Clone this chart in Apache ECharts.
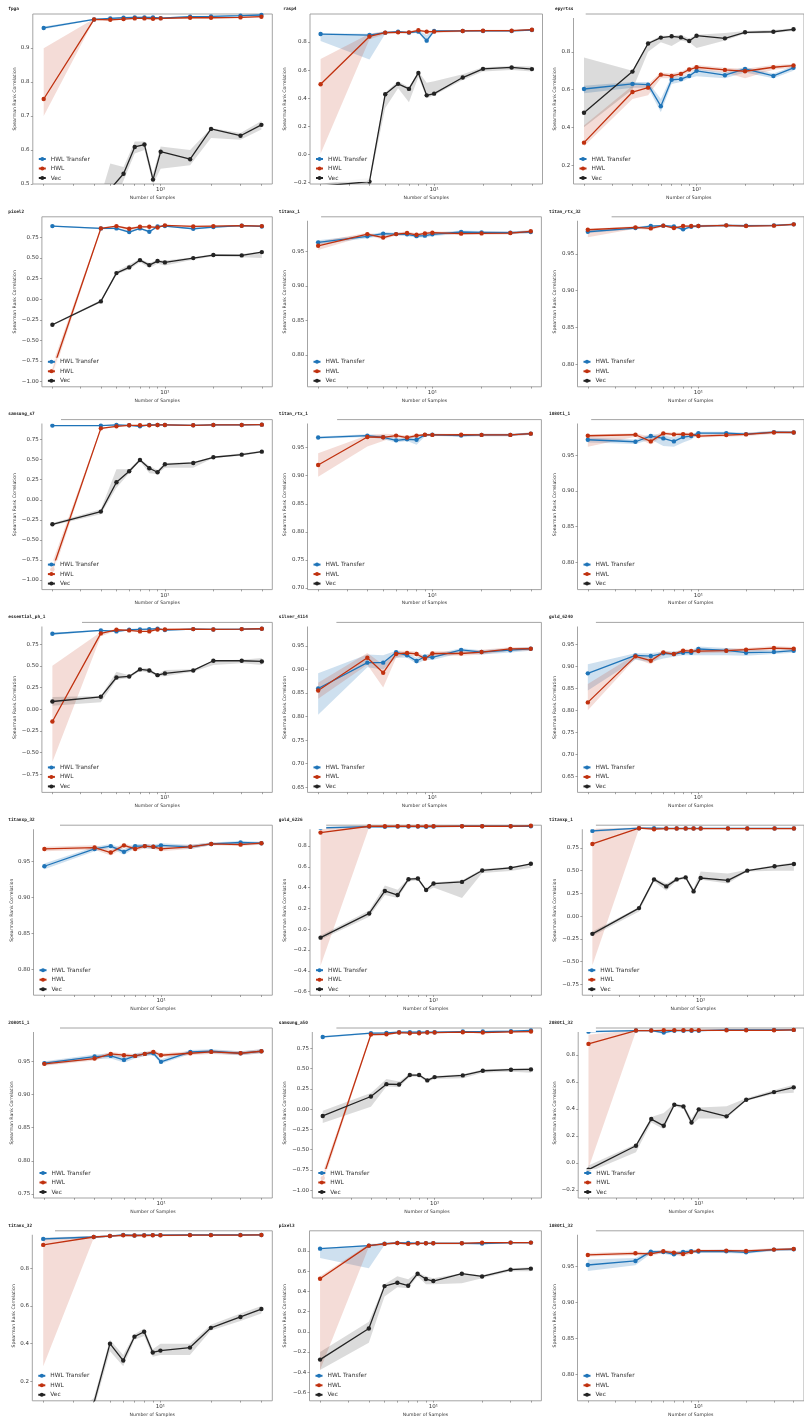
<!DOCTYPE html>
<html><head><meta charset="utf-8">
<script src="https://cdn.jsdelivr.net/npm/echarts@6/dist/echarts.min.js"></script>
<style>html,body{margin:0;padding:0;background:#fff}#c{width:804px;height:1420px}</style>
</head><body><div id="c"></div>
<script>
// ---------------- DATA ----------------
const samples = [2,4,5,6,7,8,9,10,15,20,30,40];
const xTickValues = [2,3,4,5,6,7,8,9,10,20,30,40];
const xLabelValues = [10];
const seriesNames = ['HWL Transfer','HWL','Vec'];

const ticksFpga = [0.5,0.6,0.7,0.8,0.9];
const ticksRasp = [-0.2,0,0.2,0.4,0.6,0.8];
const ticksEpy  = [0.2,0.4,0.6,0.8];
const ticksQ1   = [-1,-0.75,-0.5,-0.25,0,0.25,0.5,0.75];
const ticksQ2   = [-0.75,-0.5,-0.25,0,0.25,0.5,0.75];
const ticks80   = [0.80,0.85,0.90,0.95];
const ticks75   = [0.75,0.80,0.85,0.90,0.95];
const ticks70   = [0.70,0.75,0.80,0.85,0.90,0.95];
const ticks65   = [0.65,0.70,0.75,0.80,0.85,0.90,0.95];
const ticksM6   = [-0.6,-0.4,-0.2,0,0.2,0.4,0.6,0.8];
const ticksM2   = [-0.2,0,0.2,0.4,0.6,0.8];
const ticks02   = [0.2,0.4,0.6,0.8];

// fpga
const fpga_T    = [0.959,0.984,0.987,0.989,0.990,0.990,0.990,0.988,0.992,0.993,0.995,0.997];
const fpga_T_lo = [0.955,0.982,0.985,0.987,0.988,0.988,0.988,0.986,0.990,0.991,0.993,0.995];
const fpga_T_hi = [0.963,0.986,0.989,0.991,0.992,0.992,0.992,0.990,0.994,0.995,0.997,0.999];
const fpga_H    = [0.750,0.984,0.983,0.985,0.987,0.987,0.986,0.987,0.989,0.989,0.990,0.992];
const fpga_H_lo = [0.700,0.982,0.980,0.983,0.985,0.985,0.984,0.985,0.987,0.987,0.988,0.990];
const fpga_H_hi = [0.899,0.986,0.986,0.987,0.989,0.989,0.988,0.989,0.991,0.991,0.992,0.994];
const fpga_V    = [0.20,0.30,0.485,0.530,0.609,0.616,0.513,0.595,0.573,0.662,0.642,0.674];
const fpga_V_lo = [0.15,0.20,0.42,0.51,0.59,0.60,0.50,0.545,0.555,0.635,0.630,0.660];
const fpga_V_hi = [0.25,0.40,0.56,0.55,0.625,0.625,0.53,0.61,0.60,0.665,0.650,0.685];
// rasp4
const rasp4_T    = [0.857,0.850,0.867,0.874,0.867,0.874,0.810,0.879,0.879,0.879,0.879,0.886];
const rasp4_T_lo = [0.807,0.676,0.860,0.868,0.860,0.866,0.790,0.873,0.873,0.873,0.873,0.880];
const rasp4_T_hi = [0.862,0.860,0.874,0.880,0.874,0.880,0.850,0.885,0.885,0.885,0.885,0.892];
const rasp4_H    = [0.499,0.840,0.867,0.869,0.869,0.884,0.874,0.874,0.879,0.881,0.881,0.888];
const rasp4_H_lo = [0.003,0.820,0.855,0.860,0.860,0.875,0.865,0.865,0.872,0.875,0.875,0.882];
const rasp4_H_hi = [0.680,0.860,0.878,0.878,0.878,0.892,0.882,0.882,0.886,0.887,0.887,0.894];
const rasp4_V    = [-0.228,-0.195,0.428,0.502,0.466,0.580,0.420,0.432,0.547,0.609,0.619,0.607];
const rasp4_V_lo = [-0.24,-0.21,0.33,0.47,0.37,0.55,0.40,0.42,0.53,0.59,0.60,0.59];
const rasp4_V_hi = [-0.21,-0.17,0.44,0.52,0.48,0.59,0.51,0.52,0.57,0.62,0.63,0.625];
// epyrtss
const epy_T    = [0.603,0.630,0.626,0.512,0.652,0.655,0.672,0.699,0.676,0.709,0.672,0.715];
const epy_T_lo = [0.58,0.61,0.61,0.48,0.63,0.64,0.66,0.67,0.66,0.69,0.66,0.70];
const epy_T_hi = [0.62,0.64,0.64,0.55,0.67,0.67,0.685,0.71,0.69,0.72,0.685,0.725];
const epy_H    = [0.319,0.587,0.610,0.679,0.672,0.683,0.706,0.718,0.704,0.697,0.718,0.727];
const epy_H_lo = [0.30,0.55,0.57,0.66,0.66,0.67,0.69,0.705,0.69,0.66,0.705,0.715];
const epy_H_hi = [0.41,0.62,0.63,0.69,0.685,0.695,0.715,0.73,0.715,0.71,0.73,0.735];
const epy_V    = [0.477,0.695,0.844,0.875,0.882,0.876,0.857,0.885,0.871,0.903,0.906,0.919];
const epy_V_lo = [0.40,0.60,0.80,0.85,0.83,0.86,0.85,0.82,0.86,0.895,0.90,0.91];
const epy_V_hi = [0.77,0.70,0.85,0.885,0.885,0.89,0.87,0.89,0.90,0.91,0.915,0.925];
// pixel2
const px2_T    = [0.887,0.859,0.859,0.815,0.859,0.819,0.883,0.887,0.855,0.875,0.892,0.883];
const px2_T_lo = [0.88,0.85,0.85,0.80,0.85,0.80,0.875,0.88,0.845,0.865,0.885,0.875];
const px2_T_hi = [0.895,0.867,0.867,0.83,0.867,0.835,0.89,0.895,0.865,0.885,0.90,0.89];
const px2_H    = [-0.87,0.859,0.887,0.855,0.879,0.879,0.871,0.896,0.883,0.887,0.892,0.887];
const px2_H_lo = [-0.95,0.85,0.88,0.83,0.87,0.87,0.86,0.89,0.875,0.88,0.885,0.88];
const px2_H_hi = [-0.79,0.87,0.895,0.87,0.89,0.89,0.885,0.905,0.89,0.895,0.90,0.895];
const px2_V    = [-0.309,-0.026,0.317,0.386,0.475,0.414,0.463,0.447,0.499,0.536,0.532,0.572];
const px2_V_lo = [-0.32,-0.04,0.30,0.36,0.45,0.38,0.43,0.41,0.48,0.52,0.51,0.50];
const px2_V_hi = [-0.30,-0.01,0.34,0.42,0.49,0.44,0.48,0.47,0.51,0.55,0.55,0.58];
// titanx_1
const tx1_T    = [0.963,0.9717,0.9756,0.975,0.9746,0.972,0.9727,0.9746,0.978,0.9775,0.977,0.978];
const tx1_T_lo = [0.960,0.969,0.973,0.973,0.972,0.970,0.970,0.972,0.976,0.9755,0.975,0.976];
const tx1_T_hi = [0.966,0.974,0.978,0.977,0.977,0.974,0.975,0.977,0.980,0.9795,0.979,0.980];
const tx1_H    = [0.958,0.975,0.970,0.975,0.9765,0.974,0.976,0.977,0.9756,0.976,0.9765,0.979];
const tx1_H_lo = [0.952,0.973,0.967,0.973,0.974,0.972,0.974,0.975,0.9735,0.974,0.9745,0.977];
const tx1_H_hi = [0.964,0.977,0.973,0.977,0.979,0.976,0.978,0.979,0.9775,0.978,0.9785,0.981];
// titan_rtx_32
const trx32_T    = [0.9798,0.9848,0.9875,0.988,0.987,0.983,0.9866,0.9875,0.9884,0.988,0.9884,0.9898];
const trx32_T_lo = [0.978,0.983,0.986,0.987,0.9855,0.981,0.985,0.986,0.987,0.9868,0.987,0.9885];
const trx32_T_hi = [0.9815,0.9862,0.989,0.989,0.9885,0.985,0.988,0.989,0.9896,0.9892,0.9896,0.991];
const trx32_H    = [0.9825,0.9857,0.9843,0.988,0.9848,0.9875,0.9875,0.9875,0.9884,0.9875,0.988,0.9898];
const trx32_H_lo = [0.9725,0.984,0.982,0.9868,0.983,0.986,0.986,0.986,0.987,0.986,0.9868,0.9885];
const trx32_H_hi = [0.984,0.9872,0.986,0.9892,0.9865,0.989,0.989,0.989,0.9896,0.989,0.9892,0.991];
// samsung_s7
const s7_T    = [0.925,0.925,0.933,0.929,0.917,0.933,0.933,0.933,0.929,0.933,0.933,0.937];
const s7_T_lo = [0.92,0.92,0.928,0.924,0.905,0.928,0.928,0.928,0.924,0.928,0.928,0.932];
const s7_T_hi = [0.93,0.93,0.938,0.934,0.925,0.938,0.938,0.938,0.934,0.938,0.938,0.942];
const s7_H    = [-0.87,0.891,0.916,0.929,0.929,0.929,0.933,0.933,0.929,0.933,0.933,0.937];
const s7_H_lo = [-0.95,0.88,0.91,0.924,0.924,0.924,0.928,0.928,0.924,0.928,0.928,0.932];
const s7_H_hi = [-0.78,0.90,0.922,0.934,0.934,0.934,0.938,0.938,0.934,0.938,0.938,0.942];
const s7_V    = [-0.306,-0.148,0.218,0.355,0.496,0.393,0.343,0.442,0.459,0.530,0.563,0.600];
const s7_V_lo = [-0.32,-0.18,0.15,0.33,0.48,0.33,0.32,0.40,0.40,0.52,0.55,0.59];
const s7_V_hi = [-0.29,-0.12,0.38,0.38,0.51,0.42,0.37,0.46,0.47,0.54,0.58,0.61];
// titan_rtx_1
const trx1_T    = [0.968,0.9715,0.9685,0.963,0.965,0.964,0.9727,0.973,0.9715,0.9727,0.9727,0.975];
const trx1_T_lo = [0.966,0.969,0.965,0.959,0.962,0.955,0.970,0.971,0.969,0.9705,0.9705,0.973];
const trx1_T_hi = [0.970,0.974,0.972,0.967,0.968,0.970,0.975,0.975,0.974,0.975,0.975,0.977];
const trx1_H    = [0.919,0.969,0.9685,0.9715,0.968,0.9715,0.973,0.9727,0.973,0.9727,0.9727,0.975];
const trx1_H_lo = [0.898,0.952,0.962,0.969,0.965,0.969,0.971,0.9705,0.971,0.9705,0.9705,0.973];
const trx1_H_hi = [0.940,0.972,0.975,0.974,0.971,0.974,0.975,0.975,0.975,0.975,0.975,0.977];
// 1080ti_1
const g1080_1_T    = [0.9718,0.969,0.977,0.9737,0.9695,0.9755,0.977,0.9811,0.9811,0.9797,0.9825,0.982];
const g1080_1_T_lo = [0.968,0.966,0.972,0.963,0.962,0.968,0.972,0.979,0.979,0.978,0.9805,0.980];
const g1080_1_T_hi = [0.975,0.972,0.980,0.978,0.975,0.980,0.980,0.983,0.983,0.9815,0.9845,0.984];
const g1080_1_H    = [0.9774,0.9788,0.9695,0.9807,0.9793,0.9797,0.9793,0.977,0.9783,0.9793,0.982,0.982];
const g1080_1_H_lo = [0.962,0.976,0.965,0.978,0.977,0.977,0.977,0.975,0.976,0.977,0.980,0.980];
const g1080_1_H_hi = [0.979,0.981,0.976,0.983,0.9815,0.982,0.9815,0.979,0.9805,0.9815,0.984,0.984];
// essential_ph_1
const ess_T    = [0.869,0.908,0.896,0.915,0.919,0.923,0.927,0.912,0.923,0.919,0.923,0.927];
const ess_T_lo = [0.855,0.90,0.89,0.908,0.912,0.916,0.92,0.905,0.916,0.912,0.916,0.92];
const ess_T_hi = [0.88,0.915,0.905,0.922,0.926,0.93,0.934,0.92,0.93,0.926,0.93,0.934];
const ess_H    = [-0.142,0.873,0.915,0.908,0.896,0.896,0.919,0.919,0.923,0.919,0.923,0.927];
const ess_H_lo = [-0.61,0.84,0.905,0.90,0.885,0.885,0.91,0.91,0.915,0.912,0.915,0.92];
const ess_H_hi = [0.50,0.89,0.925,0.915,0.905,0.905,0.926,0.926,0.93,0.926,0.93,0.934];
const ess_V    = [0.088,0.142,0.365,0.377,0.458,0.446,0.392,0.412,0.446,0.558,0.558,0.550];
const ess_V_lo = [0.04,0.08,0.34,0.36,0.44,0.42,0.38,0.38,0.43,0.51,0.53,0.51];
const ess_V_hi = [0.14,0.15,0.43,0.39,0.47,0.47,0.40,0.45,0.46,0.56,0.57,0.59];
// silver_4114
const sil_T    = [0.8597,0.9145,0.9145,0.9365,0.930,0.918,0.927,0.9258,0.9415,0.937,0.941,0.944];
const sil_T_lo = [0.804,0.905,0.900,0.925,0.925,0.912,0.92,0.92,0.935,0.932,0.936,0.94];
const sil_T_hi = [0.892,0.932,0.930,0.940,0.935,0.925,0.933,0.932,0.945,0.941,0.945,0.948];
const sil_H    = [0.8555,0.925,0.893,0.933,0.935,0.933,0.923,0.934,0.934,0.937,0.9436,0.944];
const sil_H_lo = [0.838,0.910,0.862,0.925,0.93,0.928,0.918,0.929,0.929,0.932,0.94,0.94];
const sil_H_hi = [0.872,0.935,0.910,0.940,0.94,0.938,0.928,0.939,0.939,0.942,0.947,0.948];
// gold_6240
const g6240_T    = [0.884,0.925,0.9234,0.9295,0.928,0.931,0.931,0.9394,0.9363,0.931,0.9325,0.9356];
const g6240_T_lo = [0.845,0.915,0.91,0.918,0.922,0.925,0.925,0.925,0.925,0.924,0.928,0.931];
const g6240_T_hi = [0.905,0.93,0.93,0.934,0.934,0.936,0.936,0.945,0.942,0.938,0.937,0.940];
const g6240_H    = [0.8179,0.9227,0.9128,0.9318,0.928,0.9356,0.9348,0.9348,0.9356,0.9378,0.9416,0.940];
const g6240_H_lo = [0.80,0.918,0.905,0.927,0.924,0.931,0.93,0.93,0.931,0.933,0.937,0.936];
const g6240_H_hi = [0.86,0.927,0.92,0.936,0.932,0.94,0.939,0.939,0.94,0.942,0.946,0.944];
// titanxp_32
const txp32_T    = [0.943,0.967,0.971,0.963,0.971,0.971,0.970,0.972,0.970,0.974,0.976,0.975];
const txp32_T_lo = [0.939,0.964,0.968,0.959,0.968,0.968,0.967,0.969,0.967,0.972,0.974,0.973];
const txp32_T_hi = [0.947,0.970,0.974,0.967,0.974,0.974,0.973,0.975,0.973,0.976,0.978,0.977];
const txp32_H    = [0.967,0.969,0.962,0.972,0.967,0.971,0.970,0.967,0.970,0.974,0.973,0.975];
const txp32_H_lo = [0.964,0.966,0.958,0.969,0.964,0.968,0.967,0.964,0.967,0.972,0.971,0.973];
const txp32_H_hi = [0.970,0.972,0.966,0.975,0.970,0.974,0.973,0.970,0.973,0.976,0.975,0.977];
// gold_6226
const g6226_T    = [0.974,0.987,0.984,0.987,0.987,0.987,0.984,0.987,0.990,0.990,0.990,0.990];
const g6226_T_lo = [0.96,0.98,0.977,0.98,0.98,0.98,0.977,0.98,0.984,0.984,0.984,0.984];
const g6226_T_hi = [0.985,0.993,0.99,0.993,0.993,0.993,0.99,0.993,0.995,0.995,0.995,0.995];
const g6226_H    = [0.929,0.990,0.990,0.990,0.990,0.990,0.990,0.990,0.990,0.990,0.990,0.994];
const g6226_H_lo = [-0.35,0.983,0.983,0.983,0.983,0.983,0.983,0.983,0.984,0.984,0.984,0.988];
const g6226_H_hi = [0.975,0.996,0.996,0.996,0.996,0.996,0.996,0.996,0.996,0.996,0.996,0.998];
const g6226_V    = [-0.081,0.152,0.368,0.329,0.481,0.487,0.377,0.439,0.455,0.565,0.590,0.629];
const g6226_V_lo = [-0.10,0.12,0.33,0.30,0.46,0.47,0.36,0.40,0.30,0.54,0.56,0.59];
const g6226_V_hi = [-0.06,0.18,0.42,0.38,0.49,0.50,0.39,0.45,0.47,0.58,0.60,0.63];
// titanxp_1
const txp1_T    = [0.9375,0.967,0.967,0.965,0.965,0.965,0.965,0.965,0.965,0.965,0.965,0.965];
const txp1_T_lo = [0.925,0.96,0.96,0.958,0.958,0.958,0.958,0.958,0.958,0.958,0.958,0.958];
const txp1_T_hi = [0.95,0.974,0.974,0.972,0.972,0.972,0.972,0.972,0.972,0.972,0.972,0.972];
const txp1_H    = [0.794,0.967,0.956,0.963,0.963,0.963,0.963,0.963,0.963,0.963,0.963,0.963];
const txp1_H_lo = [-0.54,0.96,0.945,0.956,0.956,0.956,0.956,0.956,0.956,0.956,0.956,0.956];
const txp1_H_hi = [0.96,0.974,0.966,0.97,0.97,0.97,0.97,0.97,0.97,0.97,0.97,0.97];
const txp1_V    = [-0.195,0.088,0.404,0.327,0.404,0.426,0.272,0.419,0.393,0.50,0.548,0.574];
const txp1_V_lo = [-0.22,0.05,0.38,0.28,0.39,0.41,0.25,0.40,0.36,0.49,0.50,0.50];
const txp1_V_hi = [-0.17,0.10,0.42,0.36,0.42,0.44,0.30,0.49,0.47,0.51,0.56,0.59];
// 2080ti_1
const g2080_1_T    = [0.947,0.957,0.958,0.952,0.958,0.961,0.962,0.949,0.964,0.965,0.962,0.965];
const g2080_1_T_lo = [0.944,0.953,0.954,0.948,0.954,0.958,0.959,0.946,0.961,0.962,0.959,0.962];
const g2080_1_T_hi = [0.950,0.960,0.962,0.956,0.962,0.964,0.965,0.953,0.967,0.968,0.965,0.968];
const g2080_1_H    = [0.946,0.954,0.961,0.959,0.958,0.961,0.964,0.959,0.962,0.964,0.962,0.965];
const g2080_1_H_lo = [0.943,0.951,0.958,0.956,0.955,0.958,0.961,0.956,0.959,0.961,0.959,0.962];
const g2080_1_H_hi = [0.949,0.957,0.964,0.962,0.961,0.964,0.967,0.962,0.965,0.967,0.965,0.968];
// samsung_a50
const a50_T    = [0.890,0.936,0.940,0.948,0.948,0.948,0.948,0.948,0.956,0.956,0.960,0.969];
const a50_T_lo = [0.88,0.926,0.93,0.94,0.94,0.94,0.94,0.94,0.948,0.948,0.952,0.96];
const a50_T_hi = [0.90,0.946,0.95,0.956,0.956,0.956,0.956,0.956,0.964,0.964,0.968,0.976];
const a50_H    = [-0.85,0.919,0.923,0.944,0.936,0.936,0.944,0.944,0.948,0.944,0.952,0.956];
const a50_H_lo = [-0.92,0.905,0.91,0.935,0.927,0.927,0.935,0.935,0.94,0.936,0.944,0.948];
const a50_H_hi = [-0.78,0.93,0.935,0.952,0.945,0.945,0.952,0.952,0.956,0.952,0.96,0.964];
const a50_V    = [-0.084,0.156,0.308,0.304,0.42,0.42,0.354,0.395,0.416,0.473,0.486,0.49];
const a50_V_lo = [-0.17,0.03,0.28,0.27,0.40,0.40,0.33,0.37,0.38,0.45,0.46,0.45];
const a50_V_hi = [-0.02,0.20,0.37,0.34,0.44,0.43,0.37,0.41,0.43,0.49,0.50,0.51];
// 2080ti_32
const g2080_32_T    = [0.973,0.981,0.981,0.966,0.980,0.980,0.980,0.980,0.986,0.986,0.986,0.986];
const g2080_32_T_lo = [0.965,0.975,0.975,0.955,0.974,0.974,0.974,0.974,0.98,0.98,0.98,0.98];
const g2080_32_T_hi = [0.98,0.987,0.987,0.975,0.986,0.986,0.986,0.986,0.991,0.991,0.991,0.991];
const g2080_32_H    = [0.882,0.981,0.981,0.983,0.983,0.983,0.983,0.983,0.983,0.983,0.983,0.986];
const g2080_32_H_lo = [-0.04,0.975,0.975,0.977,0.977,0.977,0.977,0.977,0.977,0.977,0.977,0.98];
const g2080_32_H_hi = [0.95,0.987,0.987,0.989,0.989,0.989,0.989,0.989,0.989,0.989,0.989,0.991];
const g2080_32_V    = [-0.05,0.127,0.325,0.275,0.431,0.419,0.30,0.397,0.345,0.468,0.525,0.56];
const g2080_32_V_lo = [-0.07,0.08,0.30,0.25,0.42,0.40,0.28,0.33,0.33,0.46,0.51,0.52];
const g2080_32_V_hi = [-0.02,0.14,0.34,0.37,0.44,0.43,0.33,0.41,0.42,0.48,0.54,0.58];
// titanx_32
const tx32_T    = [0.957,0.967,0.972,0.978,0.975,0.977,0.977,0.977,0.978,0.978,0.978,0.978];
const tx32_T_lo = [0.95,0.962,0.967,0.973,0.97,0.972,0.972,0.972,0.973,0.973,0.973,0.973];
const tx32_T_hi = [0.964,0.972,0.977,0.983,0.98,0.982,0.982,0.982,0.983,0.983,0.983,0.983];
const tx32_H    = [0.925,0.967,0.972,0.976,0.975,0.975,0.976,0.976,0.977,0.977,0.977,0.978];
const tx32_H_lo = [0.28,0.962,0.967,0.971,0.97,0.97,0.971,0.971,0.972,0.972,0.972,0.973];
const tx32_H_hi = [0.96,0.972,0.977,0.981,0.98,0.98,0.981,0.981,0.982,0.982,0.982,0.983];
const tx32_V    = [-0.1,0.08,0.40,0.31,0.437,0.463,0.353,0.363,0.379,0.484,0.542,0.584];
const tx32_V_lo = [-0.12,0.05,0.36,0.28,0.42,0.44,0.33,0.34,0.34,0.47,0.52,0.56];
const tx32_V_hi = [-0.08,0.11,0.42,0.34,0.45,0.48,0.37,0.40,0.40,0.50,0.56,0.60];
// pixel3
const px3_T    = [0.823,0.853,0.873,0.879,0.879,0.876,0.876,0.876,0.876,0.873,0.883,0.883];
const px3_T_lo = [0.73,0.63,0.86,0.87,0.87,0.868,0.868,0.868,0.868,0.865,0.875,0.875];
const px3_T_hi = [0.83,0.86,0.88,0.886,0.886,0.884,0.884,0.884,0.884,0.881,0.89,0.89];
const px3_H    = [0.525,0.853,0.87,0.879,0.87,0.876,0.876,0.876,0.876,0.883,0.883,0.883];
const px3_H_lo = [-0.38,0.84,0.86,0.87,0.86,0.868,0.868,0.868,0.868,0.875,0.875,0.875];
const px3_H_hi = [0.55,0.87,0.88,0.886,0.88,0.884,0.884,0.884,0.884,0.89,0.89,0.89];
const px3_V    = [-0.276,0.032,0.452,0.486,0.456,0.575,0.522,0.502,0.575,0.548,0.615,0.625];
const px3_V_lo = [-0.38,-0.11,0.35,0.44,0.43,0.55,0.47,0.47,0.48,0.53,0.60,0.60];
const px3_V_hi = [-0.20,0.10,0.47,0.55,0.52,0.59,0.55,0.53,0.58,0.56,0.63,0.64];
// 1080ti_32
const g1080_32_T    = [0.9523,0.958,0.971,0.9705,0.9672,0.9705,0.9714,0.971,0.9714,0.970,0.9738,0.9742];
const g1080_32_T_lo = [0.944,0.952,0.968,0.968,0.965,0.968,0.969,0.969,0.969,0.968,0.972,0.972];
const g1080_32_T_hi = [0.960,0.962,0.973,0.973,0.970,0.973,0.974,0.973,0.974,0.972,0.9755,0.976];
const g1080_32_H    = [0.9663,0.9686,0.9677,0.9714,0.9696,0.9677,0.9705,0.9724,0.9724,0.9719,0.9738,0.9747];
const g1080_32_H_lo = [0.964,0.966,0.965,0.969,0.967,0.964,0.968,0.970,0.970,0.970,0.972,0.973];
const g1080_32_H_hi = [0.969,0.971,0.970,0.974,0.972,0.971,0.973,0.974,0.974,0.974,0.9755,0.9765];

// ---------------- PANELS (data refs + layout) ----------------
const panels = [
 {title:'fpga', T:[fpga_T,fpga_T_lo,fpga_T_hi], H:[fpga_H,fpga_H_lo,fpga_H_hi], V:[fpga_V,fpga_V_lo,fpga_V_hi], y:[0.5,1.0], ticks:ticksFpga, dec:1, box:[32.8,272.3], cut:0},
 {title:'rasp4', T:[rasp4_T,rasp4_T_lo,rasp4_T_hi], H:[rasp4_H,rasp4_H_lo,rasp4_H_hi], V:[rasp4_V,rasp4_V_lo,rasp4_V_hi], y:[-0.212,1.0], ticks:ticksRasp, dec:1, box:[310,542.5], cut:0},
 {title:'epyrtss', T:[epy_T,epy_T_lo,epy_T_hi], H:[epy_H,epy_H_lo,epy_H_hi], V:[epy_V,epy_V_lo,epy_V_hi], y:[0.1,1.0], ticks:ticksEpy, dec:1, box:[573.5,811.9], cut:585.7},
 {title:'pixel2', T:[px2_T,px2_T_lo,px2_T_hi], H:[px2_H,px2_H_lo,px2_H_hi], V:[px2_V,px2_V_lo,px2_V_hi], y:[-1.062,1.0], ticks:ticksQ1, dec:2, box:[41.9,272.3], cut:0},
 {title:'titanx_1', T:[tx1_T,tx1_T_lo,tx1_T_hi], H:[tx1_H,tx1_H_lo,tx1_H_hi], V:null, y:[0.754,1.0], ticks:ticks80, dec:2, box:[307.5,541.4], cut:321.1},
 {title:'titan_rtx_32', T:[trx32_T,trx32_T_lo,trx32_T_hi], H:[trx32_H,trx32_H_lo,trx32_H_hi], V:null, y:[0.77,1.0], ticks:ticks80, dec:2, box:[577.5,813], cut:611.6},
 {title:'samsung_s7', T:[s7_T,s7_T_lo,s7_T_hi], H:[s7_H,s7_H_lo,s7_H_hi], V:[s7_V,s7_V_lo,s7_V_hi], y:[-1.121,1.0], ticks:ticksQ1, dec:2, box:[41.9,272.3], cut:61},
 {title:'titan_rtx_1', T:[trx1_T,trx1_T_lo,trx1_T_hi], H:[trx1_H,trx1_H_lo,trx1_H_hi], V:null, y:[0.697,1.0], ticks:ticks70, dec:2, box:[307.5,541.4], cut:337.1},
 {title:'1080ti_1', T:[g1080_1_T,g1080_1_T_lo,g1080_1_T_hi], H:[g1080_1_H,g1080_1_H_lo,g1080_1_H_hi], V:null, y:[0.762,1.0], ticks:ticks80, dec:2, box:[577.5,813], cut:591.2},
 {title:'essential_ph_1', T:[ess_T,ess_T_lo,ess_T_hi], H:[ess_H,ess_H_lo,ess_H_hi], V:[ess_V,ess_V_lo,ess_V_hi], y:[-0.96,1.0], ticks:ticksQ2, dec:2, box:[41.9,272.3], cut:82},
 {title:'silver_4114', T:[sil_T,sil_T_lo,sil_T_hi], H:[sil_H,sil_H_lo,sil_H_hi], V:null, y:[0.639,1.0], ticks:ticks65, dec:2, box:[307.5,541.4], cut:336.4},
 {title:'gold_6240', T:[g6240_T,g6240_T_lo,g6240_T_hi], H:[g6240_H,g6240_H_lo,g6240_H_hi], V:null, y:[0.613,1.0], ticks:ticks65, dec:2, box:[577.5,813], cut:595.9},
 {title:'titanxp_32', T:[txp32_T,txp32_T_lo,txp32_T_hi], H:[txp32_H,txp32_H_lo,txp32_H_hi], V:null, y:[0.764,1.0], ticks:ticks80, dec:2, box:[33.5,272.3], cut:60},
 {title:'gold_6226', T:[g6226_T,g6226_T_lo,g6226_T_hi], H:[g6226_H,g6226_H_lo,g6226_H_hi], V:[g6226_V,g6226_V_lo,g6226_V_hi], y:[-0.634,1.0], ticks:ticksM6, dec:1, box:[310,541.4], cut:326.2},
 {title:'titanxp_1', T:[txp1_T,txp1_T_lo,txp1_T_hi], H:[txp1_H,txp1_H_lo,txp1_H_hi], V:[txp1_V,txp1_V_lo,txp1_V_hi], y:[-0.87,1.0], ticks:ticksQ2, dec:2, box:[582.3,813], cut:595.9},
 {title:'2080ti_1', T:[g2080_1_T,g2080_1_T_lo,g2080_1_T_hi], H:[g2080_1_H,g2080_1_H_lo,g2080_1_H_hi], V:null, y:[0.744,1.0], ticks:ticks75, dec:2, box:[33.5,272.3], cut:60},
 {title:'samsung_a50', T:[a50_T,a50_T_lo,a50_T_hi], H:[a50_H,a50_H_lo,a50_H_hi], V:[a50_V,a50_V_lo,a50_V_hi], y:[-1.095,1.0], ticks:ticksQ1, dec:2, box:[312.3,541.4], cut:336.4},
 {title:'2080ti_32', T:[g2080_32_T,g2080_32_T_lo,g2080_32_T_hi], H:[g2080_32_H,g2080_32_H_lo,g2080_32_H_hi], V:[g2080_32_V,g2080_32_V_lo,g2080_32_V_hi], y:[-0.26,1.0], ticks:ticksM2, dec:1, box:[578.2,813], cut:595.9},
 {title:'titanx_32', T:[tx32_T,tx32_T_lo,tx32_T_hi], H:[tx32_H,tx32_H_lo,tx32_H_hi], V:[tx32_V,tx32_V_lo,tx32_V_hi], y:[0.096,1.0], ticks:ticks02, dec:1, box:[32.3,272.3], cut:55},
 {title:'pixel3', T:[px3_T,px3_T_lo,px3_T_hi], H:[px3_H,px3_H_lo,px3_H_hi], V:[px3_V,px3_V_lo,px3_V_hi], y:[-0.684,1.0], ticks:ticksM6, dec:1, box:[309.5,541.4], cut:0},
 {title:'1080ti_32', T:[g1080_32_T,g1080_32_T_lo,g1080_32_T_hi], H:[g1080_32_H,g1080_32_H_lo,g1080_32_H_hi], V:null, y:[0.763,1.0], ticks:ticks80, dec:2, box:[577.5,813], cut:595.9}
];

// ---------------- STYLE ----------------
const lineColors = {T:'#1f74b8', H:'#c0310f', V:'#232323'};
const bandColors = {T:'rgba(31,116,184,0.22)', H:'rgba(192,49,15,0.17)', V:'rgba(0,0,0,0.14)'};
const nameOf = {T:'HWL Transfer', H:'HWL', V:'Vec'};
const txtColor = '#333';
const spineColor = '#9a9a9a';

function fmt(v, d) { const s = Number(v).toFixed(d); return s.charAt(0) === '-' ? '\u2212' + s.slice(1) : s; }

const option = {
  animation: false, backgroundColor: '#fff',
  textStyle: {fontFamily: 'DejaVu Sans'},
  grid: [], xAxis: [], yAxis: [], series: [], legend: [], title: [], graphic: {elements: []}
};

panels.forEach((p, i) => {
  const row = Math.floor(i / 3), col = i % 3;
  const top = 14 + 202.8 * row, h = 170;
  const left = p.box[0], width = p.box[1] - p.box[0];
  const titleX = col === 0 ? 8.3 : (col === 1 ? (row === 0 ? 283.3 : 278.8) : (row === 0 ? 555 : 549));
  const ylabX = col === 0 ? 15 : (col === 1 ? 285.3 : 555.4);

  option.grid.push({left, top, width, height: h, show: true, borderColor: spineColor, borderWidth: 0.9, backgroundColor: 'transparent'});
  option.xAxis.push({
    type: 'log', logBase: 10, gridIndex: i, min: 1.7213, max: 46.47,
    axisLine: {show: false, onZero: false}, splitLine: {show: false},
    axisTick: {show: true, customValues: xTickValues, length: 1.8, lineStyle: {color: '#666', width: 0.6}},
    axisLabel: {show: true, customValues: xLabelValues, formatter: v => Math.abs(v - 10) < 1e-6 ? '10\u00b9' : '', fontSize: 5.5, color: txtColor, margin: 2.5},
    name: 'Number of Samples', nameLocation: 'middle', nameGap: 11, nameTextStyle: {fontSize: 4.6, color: txtColor}
  });
  option.yAxis.push({
    type: 'value', gridIndex: i, min: p.y[0], max: p.y[1],
    axisLine: {show: false, onZero: false}, splitLine: {show: false},
    axisTick: {show: true, customValues: p.ticks, length: 2, lineStyle: {color: '#666', width: 0.6}},
    axisLabel: {show: true, customValues: p.ticks, formatter: v => fmt(v, p.dec), fontSize: 5.5, color: txtColor, margin: 3.2},
    name: 'Spearman Rank Correlation', nameLocation: 'middle', nameRotate: 90,
    nameGap: left - ylabX - 2.3, nameTextStyle: {fontSize: 4.6, color: txtColor}
  });

  ['T', 'H', 'V'].forEach(key => {
    const s = p[key];
    if (!s) return;
    const mean = s[0], lo = s[1], hi = s[2];
    const fill = bandColors[key];
    option.series.push({
      type: 'custom', xAxisIndex: i, yAxisIndex: i, clip: true, silent: true, z: 2,
      data: samples.map((x, k) => [x, lo[k], hi[k]]),
      encode: {x: 0, y: [1, 2]},
      renderItem: (params, api) => {
        if (params.dataIndex !== 0) return;
        const up = samples.map((x, k) => api.coord([x, hi[k]]));
        const dn = samples.map((x, k) => api.coord([x, lo[k]])).reverse();
        return {type: 'polygon', shape: {points: up.concat(dn)}, style: {fill: fill}};
      }
    });
    option.series.push({
      type: 'line', name: nameOf[key], xAxisIndex: i, yAxisIndex: i, z: 2, clip: true,
      data: samples.map((x, k) => [x, mean[k]]),
      symbol: 'circle', symbolSize: 4.4, showSymbol: true,
      lineStyle: {width: 1.3, color: lineColors[key]}, itemStyle: {color: lineColors[key]},
      emphasis: {disabled: true}
    });
  });

  option.legend.push({
    data: seriesNames, orient: 'vertical', left: left + 3, top: top + 141,
    itemWidth: 7, itemHeight: 5, itemGap: 3.5, padding: [1, 2],
    backgroundColor: 'rgba(255,255,255,0.8)', selectedMode: false,
    textStyle: {fontSize: 5.9, color: txtColor}
  });

  option.title.push({
    text: p.title, left: titleX, top: top - 7.3, padding: 0,
    textStyle: {fontSize: 4.4, fontWeight: 'bold', fontFamily: 'DejaVu Sans Mono', color: '#222'}
  });

  if (p.cut > left + 1) {
    option.graphic.elements.push({
      type: 'rect', silent: true, z: 5,
      shape: {x: titleX - 2, y: top - 9, width: p.cut - (titleX - 2), height: 13},
      style: {fill: '#fff'}
    });
  }
});

const chart = echarts.init(document.getElementById('c'), null, {renderer: 'canvas'});
chart.setOption(option);
</script></body></html>
